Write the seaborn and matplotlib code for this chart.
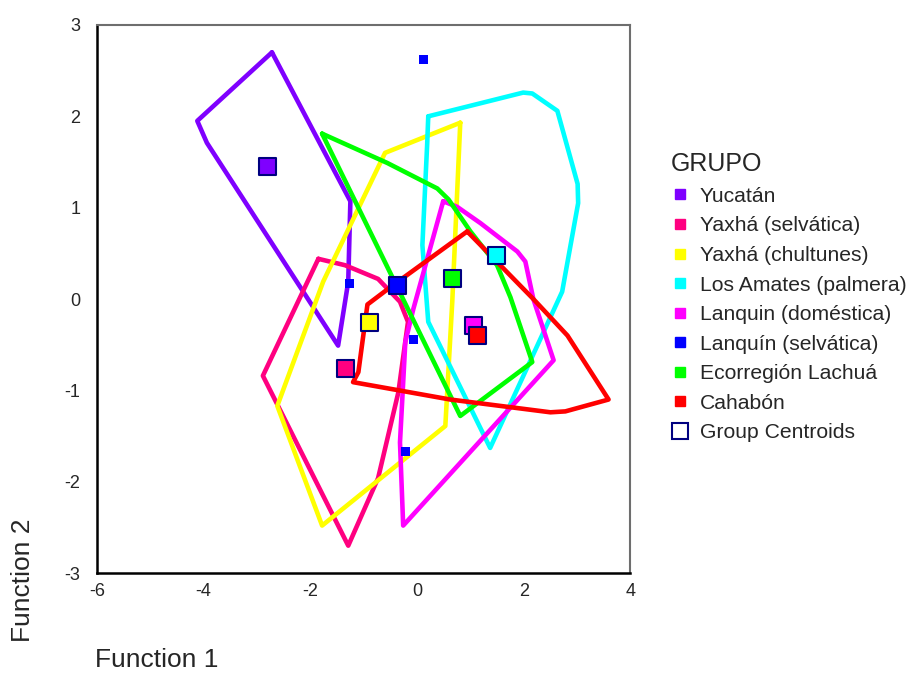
import matplotlib
matplotlib.use("Agg")
import matplotlib.pyplot as plt
from matplotlib.lines import Line2D
import seaborn as sns
import pandas as pd

# Group names in legend order
groups = ["Yucatán", "Yaxhá (selvática)", "Yaxhá (chultunes)", "Los Amates (palmera)",
          "Lanquin (doméstica)", "Lanquín (selvática)", "Ecorregión Lachuá", "Cahabón"]
colors = ["#7F00FF", "#FF0080", "#FFFF00", "#00FFFF", "#FF00FF", "#0000FF", "#00FF00", "#FF0000"]

# Territory outlines (discriminant function 1, function 2)
yucatan_x = [-2.72, -4.12, -3.94, -1.48, -1.29, -1.25]
yucatan_y = [2.70, 1.95, 1.71, -0.51, 0.19, 1.07]

yaxha_selv_x = [-1.85, -1.35, -0.73, -0.32, -0.17, -0.35, -0.73, -1.29, -2.89]
yaxha_selv_y = [0.44, 0.37, 0.22, -0.03, -0.25, -1.02, -1.96, -2.70, -0.84]

yaxha_chul_x = [0.81, 0.66, 0.53, -1.78, -2.62, -1.76, -0.60]
yaxha_chul_y = [1.93, -0.03, -1.39, -2.48, -1.17, 0.19, 1.60]

amates_x = [0.21, 1.99, 2.16, 2.63, 3.01, 3.02, 2.72, 1.37, 0.21, 0.10, 0.19]
amates_y = [2.00, 2.26, 2.25, 2.06, 1.26, 1.05, 0.08, -1.63, -0.25, 0.59, 1.70]

lanquin_dom_x = [0.49, 0.75, 1.19, 1.88, 2.03, 2.18, 2.56, -0.26, -0.32, -0.22, -0.07]
lanquin_dom_y = [1.07, 1.01, 0.83, 0.52, 0.41, 0.00, -0.67, -2.48, -1.57, -0.47, -0.11]

lachua_x = [-1.78, -0.56, 0.38, 0.59, 1.00, 1.50, 1.75, 2.16, 0.81]
lachua_y = [1.81, 1.49, 1.21, 1.09, 0.74, 0.37, 0.02, -0.69, -1.28]

cahabon_x = [0.94, 2.18, 2.82, 3.59, 2.78, 2.50, 0.62, -1.20, -1.10, -0.93, -0.50]
cahabon_y = [0.74, 0.00, -0.40, -1.10, -1.23, -1.24, -1.10, -0.91, -0.80, -0.06, 0.13]

# Lanquín (selvática) individual cases
lanquin_selv_x = [0.12, -1.27, -0.07, -0.22]
lanquin_selv_y = [2.62, 0.17, -0.44, -1.67]

# Group centroids
centroid_x = [-2.81, -1.35, -0.90, 1.49, 1.05, -0.37, 0.66, 1.13]
centroid_y = [1.45, -0.76, -0.26, 0.48, -0.29, 0.15, 0.22, -0.40]

xticks = [-6, -4, -2, 0, 2, 4]
yticks = [3, 2, 1, 0, -1, -2, -3]

outlines = {
    "Yucatán": (yucatan_x, yucatan_y),
    "Yaxhá (selvática)": (yaxha_selv_x, yaxha_selv_y),
    "Yaxhá (chultunes)": (yaxha_chul_x, yaxha_chul_y),
    "Los Amates (palmera)": (amates_x, amates_y),
    "Lanquin (doméstica)": (lanquin_dom_x, lanquin_dom_y),
    "Ecorregión Lachuá": (lachua_x, lachua_y),
    "Cahabón": (cahabon_x, cahabon_y),
}

rows = []
for g, (xs, ys) in outlines.items():
    xs_closed = list(xs) + [xs[0]]
    ys_closed = list(ys) + [ys[0]]
    for i, (a, b) in enumerate(zip(xs_closed, ys_closed)):
        rows.append({"grupo": g, "order": i, "f1": a, "f2": b})
hull_df = pd.DataFrame(rows)

palette = dict(zip(groups, colors))

sns.set_style("white")
plt.rcParams["font.family"] = ["Liberation Sans", "DejaVu Sans"]

fig = plt.figure(figsize=(9.15, 6.75), dpi=100)
ax = fig.add_axes([0.106, 0.151, 0.583, 0.812])

sns.lineplot(data=hull_df, x="f1", y="f2", hue="grupo", units="grupo",
             estimator=None, sort=False, palette=palette,
             hue_order=[g for g in groups if g in outlines],
             linewidth=3.3, legend=False, ax=ax)

pts_df = pd.DataFrame({"f1": lanquin_selv_x, "f2": lanquin_selv_y})
sns.scatterplot(data=pts_df, x="f1", y="f2", marker="s", s=40, color="#0000FF",
                edgecolor="none", linewidth=0, legend=False, ax=ax, zorder=4)

cent_df = pd.DataFrame({"f1": centroid_x, "f2": centroid_y, "grupo": groups})
sns.scatterplot(data=cent_df, x="f1", y="f2", hue="grupo", palette=palette,
                marker="s", s=150, edgecolor="#000080", linewidth=1.5,
                legend=False, ax=ax, zorder=5)

ax.set_xlim(-6, 4)
ax.set_ylim(-3, 3)
ax.set_xticks(xticks)
ax.set_yticks(yticks)
ax.set_xticklabels([str(t) for t in xticks])
ax.set_yticklabels([str(t) for t in yticks])
ax.tick_params(axis="both", direction="out", length=3, width=2.2, color="black",
               labelsize=13)
ax.tick_params(axis="x", pad=4)
ax.tick_params(axis="y", pad=9)
ax.set_xlabel("")
ax.set_ylabel("")

for side in ["left", "bottom"]:
    ax.spines[side].set_color("black")
    ax.spines[side].set_linewidth(1.8)
for side in ["top", "right"]:
    ax.spines[side].set_color("#6E6E6E")
    ax.spines[side].set_linewidth(1.5)

fig.text(0.104, 0.022, "Function 1", fontsize=19, ha="left", va="center")
fig.text(0.025, 0.141, "Function 2", fontsize=19, rotation=90, ha="center", va="center")

handles = [Line2D([0], [0], marker="s", linestyle="none", markersize=7,
                  markerfacecolor=c, markeredgecolor=c) for c in colors]
handles.append(Line2D([0], [0], marker="s", linestyle="none", markersize=12,
                      markerfacecolor="white", markeredgecolor="#000080",
                      markeredgewidth=1.5))
labels = groups + ["Group Centroids"]
leg = fig.legend(handles, labels, title="GRUPO", loc="upper left",
                 bbox_to_anchor=(0.722, 0.79), frameon=False, fontsize=15.2,
                 title_fontsize=18, handlelength=0.8, handletextpad=0.55,
                 labelspacing=0.5, borderpad=0, alignment="left")

fig.savefig("out.png", dpi=100)
